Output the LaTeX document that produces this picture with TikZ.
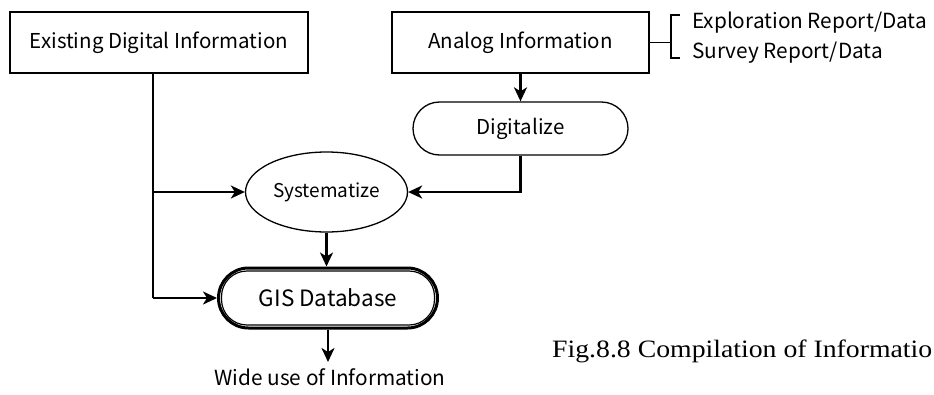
\documentclass[tikz,border=0pt]{standalone}
\usepackage{fontspec}
\usetikzlibrary{shapes.geometric,arrows.meta,calc}
\newfontfamily\gothic{Noto Sans CJK JP}
\newfontfamily\capfont[FakeStretch=1.11]{Liberation Serif}
\begin{document}
\begin{tikzpicture}[x=1pt,y=-1pt,
  box/.style={draw,line width=1.3pt,minimum width=298pt,minimum height=61pt,inner sep=0pt,
    font=\gothic\fontsize{20.5}{24}\selectfont},
  stadium/.style={draw,line width=1.3pt,inner sep=0pt,font=\gothic\fontsize{20.5}{24}\selectfont},
  oval/.style={draw,ellipse,line width=1.3pt,inner sep=0pt,minimum width=162pt,minimum height=80pt,
    font=\gothic\fontsize{19}{22}\selectfont},
  plain/.style={inner sep=0pt,font=\gothic\fontsize{20.8}{24}\selectfont},
  wire/.style={line width=2.1pt},
  flow/.style={line width=2.3pt,-{Stealth[length=14pt,width=13pt,inset=4pt]}},
  brace/.style={line width=1.3pt}]
\useasboundingbox (0,0) rectangle (934,394);

% boxes in the top row
\node[box] (exist) at (159,42.5) {Existing Digital Information};
\node[box,minimum width=257pt] (analog) at (520.5,42.5) {Analog Information};

% bracket with the two kinds of analog sources
\coordinate (bj) at (671,42.5);
\coordinate (bt) at (671,15);
\coordinate (bb) at (671,58);
\coordinate (bt2) at (680,15);
\coordinate (bb2) at (680,58);
\draw[brace] (analog.east) -- (bj);
\draw[brace] (bt2) -- (bt) -- (bb) -- (bb2);
\node[plain,anchor=base west] (expl) at (692,28) {Exploration Report/Data};
\node[plain,anchor=base west] (surv) at (692,58) {Survey Report/Data};

% processing steps
\node[stadium,rounded corners=26.5pt,minimum width=215pt,minimum height=53pt] (dig) at (520.5,128.5) {Digitalize};
\node[oval] (sys) at (326.5,192) {Systematize};

% GIS database: thick outer stadium with a thin one inside
\node[draw,line width=3pt,rounded corners=30pt,minimum width=219pt,minimum height=60pt,inner sep=0pt,
  font=\gothic\fontsize{22.5}{26}\selectfont] (gis) at (328,298) {GIS Database};
\draw[line width=1.2pt,rounded corners=25.5pt]
  ($(gis.south west)+(4.5,-4.5)$) rectangle ($(gis.north east)+(-4.5,4.5)$);

\node[plain] (wide) at (330,377) {Wide use of Information};
\coordinate (wtip) at (328,362);

% connectors
\coordinate (ljoin) at (153,192);
\coordinate (lcorner) at (153,298);
\draw[wire] (exist.south -| ljoin) -- (lcorner);
\draw[flow] (ljoin) -- (sys.west);
\draw[flow] (lcorner) -- (gis.west);
\draw[flow] (analog.south) -- (dig.north);
\draw[flow] (dig.south) |- (sys.east);
\draw[flow] (sys.south) -- (sys.south |- gis.north);
\draw[flow] (gis.south) -- (wtip);

% caption
\node[inner sep=0pt,anchor=base west,font=\capfont\fontsize{25}{29}\selectfont] (cap) at (552,357)
  {Fig.8.8 Compilation of Informatio};
\end{tikzpicture}
\end{document}
